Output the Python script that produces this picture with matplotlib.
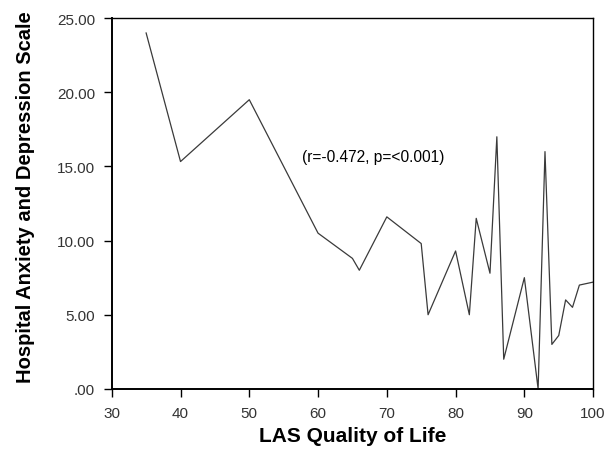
import matplotlib
matplotlib.use("Agg")
import matplotlib.pyplot as plt
from matplotlib.ticker import FuncFormatter

# LAS quality of life score vs HADS score
las_qol = [35, 40, 50, 60, 65, 66, 70, 75, 76, 80, 82, 83, 85, 86, 87,
           90, 92, 93, 94, 95, 96, 97, 98, 100]
hads = [24.0, 15.33, 19.5, 10.5, 8.8, 8.0, 11.6, 9.8, 5.0, 9.3, 5.0, 11.5,
        7.8, 17.0, 2.0, 7.5, 0.0, 16.0, 3.0, 3.6, 6.0, 5.5, 7.0, 7.2]

x_ticks = [30, 40, 50, 60, 70, 80, 90, 100]
y_ticks = [0, 5, 10, 15, 20, 25]
annotation = "(r=-0.472, p=<0.001)"

plt.rcParams['font.family'] = ['Liberation Sans', 'DejaVu Sans']

fig = plt.figure(figsize=(6.14, 4.56), dpi=100)
ax = fig.add_axes([0.182, 0.145, 0.784, 0.813])

ax.plot(las_qol, hads, color="#3a3a3a", linewidth=0.9)

ax.set_xlim(30, 100)
ax.set_ylim(0, 25)
ax.set_xticks(x_ticks)
ax.set_yticks(y_ticks)


def fmt_y(v, pos):
    s = f"{v:.2f}"
    return s[1:] if s.startswith("0") else s


ax.yaxis.set_major_formatter(FuncFormatter(fmt_y))
ax.tick_params(direction="out", length=6, width=1, labelsize=11,
               colors="black", pad=6)
ax.tick_params(axis="both", labelcolor="#333333")

for side in ["left", "bottom"]:
    ax.spines[side].set_linewidth(1.4)
for side in ["top", "right"]:
    ax.spines[side].set_linewidth(1.0)

ax.text(68, 15.7, annotation, ha="center", va="center", fontsize=11.2)

ax.set_xlabel("LAS Quality of Life", fontsize=15, fontweight="bold", va="center")
ax.set_ylabel("Hospital Anxiety and Depression Scale", fontsize=14.5,
              fontweight="bold", va="center")
ax.xaxis.set_label_coords(0.5, -0.127)
ax.yaxis.set_label_coords(-0.18, 0.52)

fig.savefig("out.png", dpi=100)
